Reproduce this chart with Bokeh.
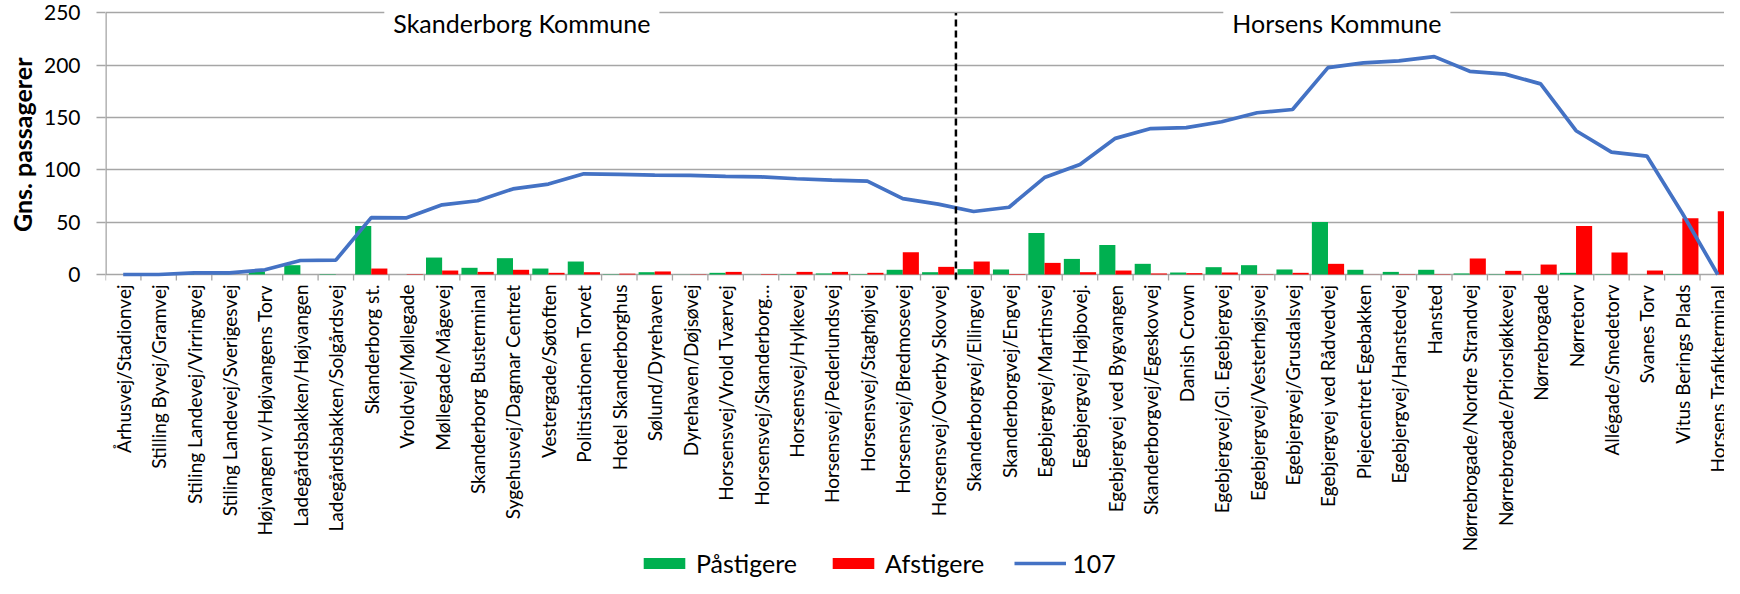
import math
from bokeh.plotting import figure
from bokeh.models import (Range1d, FixedTicker, Label, Legend, LegendItem,
                          ColumnDataSource, Title)
from bokeh.core.properties import value
from bokeh.embed import file_html
from bokeh.resources import INLINE

stops = [
    "Århusvej/Stadionvej", "Stilling Byvej/Gramvej", "Stiling Landevej/Virringvej",
    "Stiling Landevej/Sverigesvej", "Højvangen v/Højvangens Torv", "Ladegårdsbakken/Højvangen",
    "Ladegårdsbakken/Solgårdsvej", "Skanderborg st.", "Vroldvej/Møllegade", "Møllegade/Mågevej",
    "Skanderborg Busterminal", "Sygehusvej/Dagmar Centret", "Vestergade/Søtoften",
    "Politistationen Torvet", "Hotel Skanderborghus", "Sølund/Dyrehaven", "Dyrehaven/Døjsøvej",
    "Horsensvej/Vrold Tværvej", "Horsensvej/Skanderborg…", "Horsensvej/Hylkevej",
    "Horsensvej/Pederlundsvej", "Horsensvej/Staghøjvej", "Horsensvej/Bredmosevej",
    "Horsensvej/Overby Skovvej", "Skanderborgvej/Ellingvej", "Skanderborgvej/Engvej",
    "Egebjergvej/Martinsvej", "Egebjergvej/Højbovej.", "Egebjergvej ved Bygvangen",
    "Skanderborgvej/Egeskovvej", "Danish Crown", "Egebjergvej/Gl. Egebjergvej",
    "Egebjergvej/Vesterhøjsvej", "Egebjergvej/Grusdalsvej", "Egebjergvej ved Rådvedvej",
    "Plejecentret Egebakken", "Egebjergvej/Hanstedvej", "Hansted",
    "Nørrebrogade/Nordre Strandvej", "Nørrebrogade/Priorsløkkevej", "Nørrebrogade",
    "Nørretorv", "Allégade/Smedetorv", "Svanes Torv", "Vitus Berings Plads",
    "Horsens Trafikterminal",
]

kommuner = ["Skanderborg Kommune", "Horsens Kommune"]
kommune_count = [24, 22]

paastigere = [0, 0, 1.5, 0.2, 2.8, 8.9, 0.4, 46.4, 0, 16.2, 6.4, 15.6, 5.7, 12.4,
              0.3, 2.2, 0.1, 1.6, 0.1, 0.4, 1.0, 0.4, 4.5, 2.2, 5.1, 4.8, 39.7, 14.9,
              28.3, 10.2, 1.9, 7.0, 8.9, 4.8, 50.2, 4.5, 2.5, 4.5, 1.0, 0.3, 0.5, 1.6,
              0.3, 0.1, 0.3, 0]
afstigere = [0, 0, 0, 0, 0, 0, 0, 5.7, 0.4, 3.8, 2.5, 4.5, 1.6, 2.2,
             0.8, 2.9, 0.3, 2.5, 0.5, 2.5, 2.5, 1.6, 21.3, 7.3, 12.4, 0.5, 11.1, 2.2,
             3.8, 1.0, 1.3, 1.9, 0.3, 1.6, 10.2, 0.1, 0.3, 0.3, 15.3, 3.5, 9.5, 46.4,
             21.0, 3.8, 53.7, 60.5]
linje_107 = [0, 0, 1.5, 1.6, 4.5, 13.4, 13.7, 54.4, 54.2, 66.6, 70.5, 81.8, 86.4, 96.2,
             95.6, 94.9, 94.7, 93.8, 93.3, 91.5, 90.2, 89.2, 72.5, 67.3, 60.2, 64.3,
             92.6, 105.2, 130.1, 139.5, 140.4, 146.0, 154.6, 157.7, 197.7, 202.2, 204.2,
             208.2, 194.2, 191.5, 182.2, 137.4, 116.9, 113.2, 58.5, 0]

y_ticks = [0, 50, 100, 150, 200, 250]

FONT = "Lato"
GREEN = "#00b050"
RED = "#ff0000"
BLUE = "#4472c4"
GRID = "#a6a6a6"

# ---- layout (pixels) ----
W, H = 1724, 578
LEFT = 103            # frame left inside figure
ZERO_PX = 274         # y=0 line from figure top
K = 261.6 / 250       # pixels per passenger
y_top = ZERO_PX / K
y_bot = -(H - ZERO_PX) / K
px = 1 / K            # one pixel in data units

n = len(stops)
idx = list(range(n))
bw = 0.455
src = ColumnDataSource(dict(
    x=idx,
    xg=[i - bw / 2 for i in idx],
    xr=[i + bw / 2 for i in idx],
    on=paastigere, off=afstigere, load=linje_107,
    name=stops, ylab=[-10 * px] * n,
))

p = figure(width=W, height=H, output_backend="svg", toolbar_location=None,
           x_range=Range1d(-0.5, 45.19), y_range=Range1d(y_bot, y_top),
           x_axis_location=None,
           min_border_left=LEFT, min_border_right=0, min_border_top=0,
           min_border_bottom=0)
p.outline_line_color = None
p.xgrid.grid_line_color = None
p.ygrid.grid_line_color = GRID
p.ygrid.grid_line_width = 1.3
p.ygrid.ticker = FixedTicker(ticks=y_ticks)

# y axis (ticks + numbers); its line is drawn below only over 0..250
p.yaxis.ticker = FixedTicker(ticks=y_ticks)
p.yaxis.axis_line_color = None
p.yaxis.major_tick_line_color = GRID
p.yaxis.major_tick_line_width = 1.3
p.yaxis.major_tick_out = 9
p.yaxis.major_tick_in = 0
p.yaxis.minor_tick_line_color = None
p.yaxis.major_label_standoff = 16
p.yaxis.major_label_text_font = FONT
p.yaxis.major_label_text_font_size = "21px"
p.yaxis.major_label_text_color = "#000000"

ytitle = Title(text="Gns. passagerer", align="right", offset=57,
               text_font=FONT, text_font_size="25px", text_font_style="bold",
               text_color="#000000", standoff=8)
p.add_layout(ytitle, "left")

p.segment(x0=[-0.5], y0=[0], x1=[-0.5], y1=[y_ticks[-1]],
          line_color=GRID, line_width=2.6)

# category boundary ticks below the 0 line
bounds = [i - 0.5 for i in range(n + 1)]
p.segment(x0=bounds, y0=[0] * len(bounds), x1=bounds, y1=[-6 * px] * len(bounds),
          line_color=GRID, line_width=1.3)

# stop names
p.text(x="x", y="ylab", text="name", source=src, angle=math.pi / 2,
       text_align="right", text_baseline="middle",
       text_font=value(FONT), text_font_size=value("19px"), text_color="#000000")

g = p.vbar(x="xg", width=bw, top="on", bottom=0, source=src,
           fill_color=GREEN, line_color=None)
r = p.vbar(x="xr", width=bw, top="off", bottom=0, source=src,
           fill_color=RED, line_color=None)
ln = p.line(x="x", y="load", source=src, line_color=BLUE, line_width=3.7)

# divider between the municipalities
boundary = kommune_count[0] - 0.5
p.segment(x0=[boundary], y0=[-5 * px], x1=[boundary], y1=[y_ticks[-1]],
          line_color="black", line_width=2.5, line_dash="7 4")

# municipality labels on the top grid line
start = 0
for name, cnt in zip(kommuner, kommune_count):
    mid = start + (cnt - 1) / 2 - 0.25
    p.add_layout(Label(x=mid, y=y_ticks[-1], text=name, text_align="center",
                       text_baseline="alphabetic", text_font=FONT, text_font_size="25px",
                       text_color="#000000", background_fill_color="white",
                       padding=9, y_offset=-10))
    start += cnt

legend = Legend(items=[LegendItem(label="Påstigere", renderers=[g]),
                       LegendItem(label="Afstigere", renderers=[r]),
                       LegendItem(label="107", renderers=[ln])],
                orientation="horizontal", location=(533, 0),
                glyph_width=52, glyph_height=14, label_standoff=6, spacing=30,
                label_text_font=FONT, label_text_font_size="25px",
                label_text_color="#000000", padding=0, margin=0,
                border_line_color=None, background_fill_alpha=0)
p.add_layout(legend, "center")

open("out.html", "w").write(file_html(p, INLINE))
